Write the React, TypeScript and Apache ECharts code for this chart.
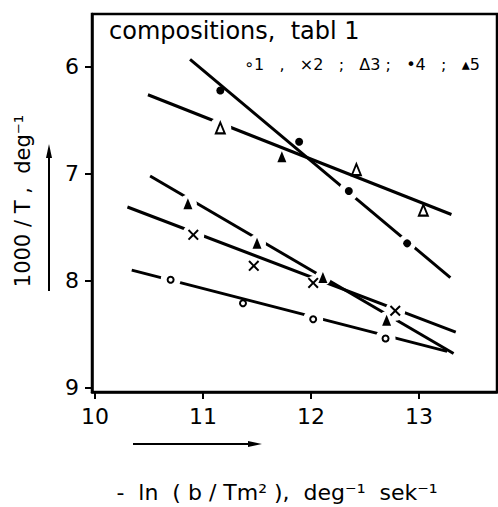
import React, { useEffect, useRef } from "react";
import * as echarts from "echarts";

// Axis ticks
const xTicks = [10, 11, 12, 13];
const yTicks = [6, 7, 8, 9];

// Composition 1 (open circles)
const c1X = [10.7, 11.37, 12.02, 12.69];
const c1Y = [7.99, 8.21, 8.36, 8.54];
const c1LineX = [10.34, 13.26];
const c1LineY = [7.9, 8.66];

// Composition 2 (crosses)
const c2X = [10.91, 11.47, 12.02, 12.78];
const c2Y = [7.57, 7.86, 8.02, 8.28];
const c2LineX = [10.3, 13.34];
const c2LineY = [7.31, 8.48];

// Composition 3 (open triangles; one printed filled)
const c3X = [11.16, 11.73, 12.42, 13.04];
const c3Y = [6.57, 6.84, 6.96, 7.34];
const c3Filled = [false, true, false, false];
const c3LineX = [10.49, 13.3];
const c3LineY = [6.26, 7.38];

// Composition 4 (filled dots)
const c4X = [11.16, 11.89, 12.35, 12.89];
const c4Y = [6.22, 6.7, 7.16, 7.65];
const c4LineX = [10.88, 13.29];
const c4LineY = [5.93, 7.97];

// Composition 5 (filled triangles)
const c5X = [10.86, 11.5, 12.11, 12.7];
const c5Y = [7.28, 7.65, 7.97, 8.37];
const c5LineX = [10.51, 13.32];
const c5LineY = [7.02, 8.68];

// Style only: size (px) of the white break cut into the fitted line around each point
const c1Gap = [20, 0, 20, 20];
const c2Gap = [22, 0, 14, 20];
const c3Gap = [22, 0, 0, 0];
const c4Gap = [0, 0, 20, 18];
const c5Gap = [18, 18, 16, 18];

const FONT = "'DejaVu Sans', sans-serif";
const CROSS = "path://M0,1.3L1.3,0L5,3.7L8.7,0L10,1.3L6.3,5L10,8.7L8.7,10L5,6.3L1.3,10L0,8.7L3.7,5Z";

const pairs = (xs: number[], ys: number[]) => xs.map((x, i) => [x, ys[i]]);

export default function App() {
  const ref = useRef<HTMLDivElement>(null);
  useEffect(() => {
    if (!ref.current) return;
    const chart = echarts.init(ref.current, null, { renderer: "svg" });

    const lineSeries = (xs: number[], ys: number[]) => ({
      type: "line",
      data: pairs(xs, ys),
      symbol: "none",
      z: 2,
      lineStyle: { color: "#000", width: 3 },
      silent: true,
    });
    const haloSeries = (xs: number[], ys: number[], gaps: number[]) => ({
      type: "scatter",
      data: xs.map((x, i) => ({ value: [x, ys[i]], symbolSize: gaps[i] })),
      symbol: "circle",
      z: 3,
      itemStyle: { color: "#fff", opacity: 1 },
      silent: true,
    });

    chart.setOption({
      animation: false,
      grid: {
        left: 92,
        right: 1,
        top: 14,
        bottom: 115,
        show: true,
        borderColor: "#000",
        borderWidth: 2.5,
      },
      xAxis: {
        type: "value",
        min: 9.972,
        max: 13.722,
        axisLine: { show: true, lineStyle: { color: "#000", width: 2.5 } },
        axisTick: { show: true, customValues: xTicks, length: 7, lineStyle: { color: "#000", width: 2 } },
        axisLabel: { customValues: xTicks, color: "#000", fontSize: 22, fontFamily: FONT, margin: 13 },
        splitLine: { show: false },
      },
      yAxis: {
        type: "value",
        inverse: true,
        min: 5.505,
        max: 9.04,
        axisLine: { show: true, lineStyle: { color: "#000", width: 2.5 } },
        axisTick: { show: true, customValues: yTicks, length: 7, lineStyle: { color: "#000", width: 2 } },
        axisLabel: { customValues: yTicks, color: "#000", fontSize: 22, fontFamily: FONT, margin: 13 },
        splitLine: { show: false },
      },
      series: [
        lineSeries(c1LineX, c1LineY),
        lineSeries(c2LineX, c2LineY),
        lineSeries(c3LineX, c3LineY),
        lineSeries(c4LineX, c4LineY),
        lineSeries(c5LineX, c5LineY),
        haloSeries(c1X, c1Y, c1Gap),
        haloSeries(c2X, c2Y, c2Gap),
        haloSeries(c3X, c3Y, c3Gap),
        haloSeries(c4X, c4Y, c4Gap),
        haloSeries(c5X, c5Y, c5Gap),
        {
          name: "1",
          type: "scatter",
          data: pairs(c1X, c1Y),
          symbol: "emptyCircle",
          symbolSize: 6,
          z: 4,
          itemStyle: { color: "#000", borderColor: "#000", borderWidth: 2.5, opacity: 1 },
        },
        {
          name: "2",
          type: "scatter",
          data: pairs(c2X, c2Y),
          symbol: CROSS,
          symbolSize: 11,
          z: 4,
          itemStyle: { color: "#000", opacity: 1 },
        },
        {
          name: "3",
          type: "scatter",
          data: c3X.map((x, i) => ({
            value: [x, c3Y[i]],
            symbol: c3Filled[i] ? "triangle" : "emptyTriangle",
            itemStyle: c3Filled[i]
              ? { color: "#000", borderWidth: 0, opacity: 1 }
              : { color: "#000", borderColor: "#000", borderWidth: 2.5, opacity: 1 },
          })),
          symbolSize: [9, 11],
          z: 4,
        },
        {
          name: "4",
          type: "scatter",
          data: pairs(c4X, c4Y),
          symbol: "circle",
          symbolSize: 8,
          z: 4,
          itemStyle: { color: "#000", opacity: 1 },
        },
        {
          name: "5",
          type: "scatter",
          data: pairs(c5X, c5Y),
          symbol: "triangle",
          symbolSize: [9, 11],
          z: 4,
          itemStyle: { color: "#000", opacity: 1 },
        },
      ],
      graphic: [
        {
          type: "text",
          left: 109,
          top: 19,
          style: { text: "compositions,  tabl 1", fontSize: 24, fontFamily: FONT, fill: "#000" },
          z: 10,
        },
        {
          type: "text",
          left: 244,
          top: 56,
          style: {
            text: "∘1   ,   ×2   ;   Δ3 ;   •4   ;   ▴5",
            fontSize: 16,
            fontFamily: FONT,
            fill: "#000",
          },
          z: 10,
        },
        {
          type: "text",
          x: 23,
          y: 201,
          rotation: Math.PI / 2,
          style: {
            text: "1000 / T ,  deg⁻¹",
            fontSize: 21,
            fontFamily: FONT,
            fill: "#000",
            align: "center",
            verticalAlign: "middle",
          },
        },
        {
          type: "line",
          shape: { x1: 49, y1: 291, x2: 49, y2: 155 },
          style: { stroke: "#000", lineWidth: 2 },
        },
        {
          type: "polygon",
          shape: { points: [[49, 144], [46, 158], [52, 158]] },
          style: { fill: "#000" },
        },
        {
          type: "line",
          shape: { x1: 133, y1: 444, x2: 252, y2: 444 },
          style: { stroke: "#000", lineWidth: 2 },
        },
        {
          type: "polygon",
          shape: { points: [[262, 444], [248, 441], [248, 447]] },
          style: { fill: "#000" },
        },
        {
          type: "text",
          x: 277,
          y: 492,
          style: {
            text: "-  ln  ( b / Tm² ),  deg⁻¹  sek⁻¹",
            fontSize: 22,
            fontFamily: FONT,
            fill: "#000",
            align: "center",
            verticalAlign: "middle",
          },
        },
      ],
    });
    return () => chart.dispose();
  }, []);
  return (
    <div
      ref={ref}
      style={{ position: "fixed", left: 0, top: 0, width: 498, height: 507, background: "#fff" }}
    />
  );
}
